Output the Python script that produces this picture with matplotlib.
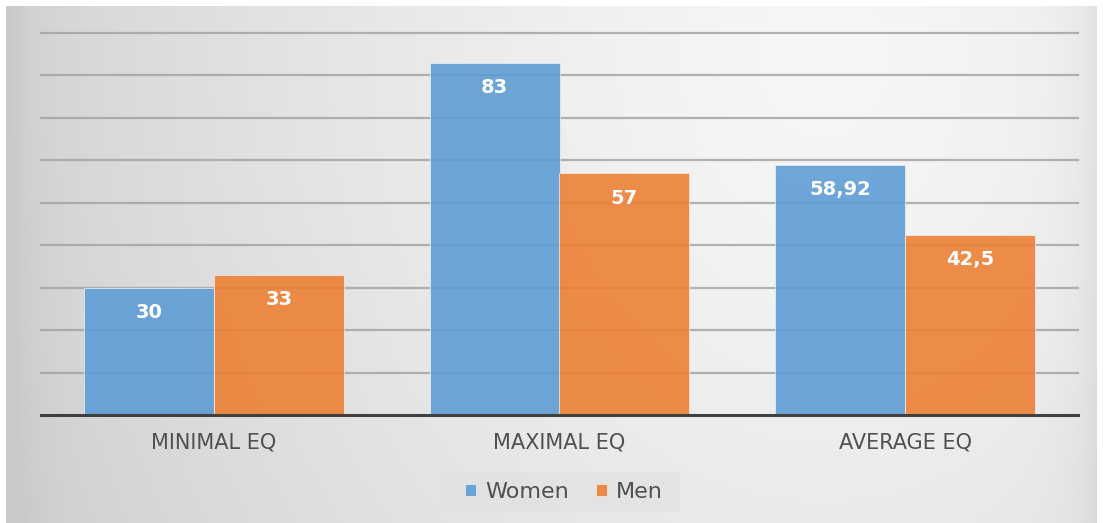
import numpy as np
import matplotlib.pyplot as plt
from matplotlib.patches import Rectangle

categories = ["MINIMAL EQ", "MAXIMAL EQ", "AVERAGE EQ"]
women = [30, 83, 58.92]
men = [33, 57, 42.5]
women_labels = ["30", "83", "58,92"]
men_labels = ["33", "57", "42,5"]
series_names = ["Women", "Men"]

W, H = 1103, 523
fig = plt.figure(figsize=(W / 100, H / 100), dpi=100)
fig.patch.set_facecolor("white")

# background gradient panel
bg = fig.add_axes([6 / W, 0, 1 - 12 / W, 1 - 6 / H], zorder=0)
ny, nx = 200, 400
xx, yy = np.meshgrid(np.linspace(0, 1, nx), np.linspace(0, 1, ny))
d = np.sqrt(((xx - 0.75) / 0.85) ** 2 + ((yy - 0.1) / 2.2) ** 2)
val = 0.965 - 0.16 * d ** 1.4
edge = np.minimum(xx, 1 - xx)
val = val - 0.05 * np.exp(-edge / 0.02)
val = np.clip(val, 0.79, 0.975)
img = np.dstack([val, val, val])
bg.imshow(img, aspect="auto", extent=[0, 1, 0, 1], origin="upper")
bg.set_axis_off()

ax = fig.add_axes([41 / W, (H - 415) / H, (1078 - 41) / W, (415 - 33) / H], zorder=1)
ax.patch.set_alpha(0)

x = np.arange(len(categories))
bw = 0.376
blue = "#5B9BD5"
orange = "#ED7D31"
b1 = ax.bar(x - bw / 2, women, bw, color=blue, alpha=0.88, edgecolor="#e8f0f8", linewidth=0.6, zorder=2, label=series_names[0])
b2 = ax.bar(x + bw / 2, men, bw, color=orange, alpha=0.88, edgecolor="#f8ece4", linewidth=0.6, zorder=2, label=series_names[1])

ax.set_ylim(0, 90)
ax.set_xlim(-0.5, 2.5)
ax.set_yticks(np.arange(10, 91, 10))
ax.yaxis.grid(True, color="#a0a0a0", linewidth=1.6, alpha=0.8, zorder=1)
ax.set_axisbelow(True)
for gl in ax.get_ygridlines():
    gl.set_clip_on(False)
ax.tick_params(axis="y", left=False, labelleft=False)
ax.tick_params(axis="x", bottom=False, pad=9)
ax.set_xticks(x)
ax.set_xticklabels(categories, fontsize=15, color="#505050", family="DejaVu Sans")
for s in ["top", "right", "left"]:
    ax.spines[s].set_visible(False)
ax.spines["bottom"].set_color("#404040")
ax.spines["bottom"].set_linewidth(2.2)
ax.spines["bottom"].set_zorder(4)

for bars, labs in ((b1, women_labels), (b2, men_labels)):
    for r, lab in zip(bars, labs):
        ax.annotate(lab, (r.get_x() + r.get_width() / 2, r.get_height()),
                    xytext=(0, -25), textcoords="offset pixels",
                    ha="center", va="center", color="white", fontsize=14,
                    fontweight="bold", family="DejaVu Sans", zorder=5)

# legend box
lx0, ly0, lx1, ly1 = 440, 472, 680, 512
fig.patches.append(Rectangle((lx0 / W, 1 - ly1 / H), (lx1 - lx0) / W, (ly1 - ly0) / H,
                             transform=fig.transFigure, facecolor="#e2e2e2", edgecolor="none", alpha=0.8, zorder=2))
leg = fig.legend(handles=[b1, b2], labels=series_names, loc="center", bbox_to_anchor=(564 / W, 1 - 492 / H),
                 ncol=2, frameon=False, handlelength=0.5, handleheight=0.5,
                 handletextpad=0.4, columnspacing=1.2, prop={"family": "DejaVu Sans", "size": 16})
for t in leg.get_texts():
    t.set_color("#505050")

fig.savefig("out.png", dpi=100)
